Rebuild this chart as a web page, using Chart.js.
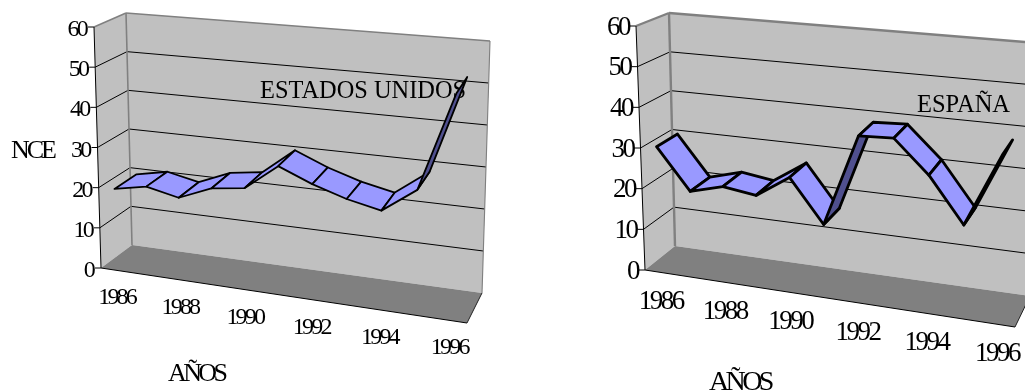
<!DOCTYPE html>
<html>
<head>
<meta charset="utf-8">
<style>
  html, body { margin: 0; background: #fff; overflow: hidden; }
  canvas { position: absolute; top: 0; }
</style>
<script src="https://cdn.jsdelivr.net/npm/chart.js@4"></script>
</head>
<body>
<canvas id="chartUsa" width="512" height="392" style="left:0"></canvas>
<canvas id="chartSpain" width="513" height="392" style="left:512px"></canvas>
<script>
const years = ['1986', '1987', '1988', '1989', '1990', '1991', '1992', '1993', '1994', '1995', '1996'];
const shownYears = ['1986', '1988', '1990', '1992', '1994', '1996'];
const usaValues = [20.2, 21.8, 20.1, 23.4, 24.5, 30.8, 27.5, 25, 23.3, 29.2, 52.6];
const spainValues = [30.8, 20.9, 23.1, 22, 27.3, 17.2, 39, 39.4, 31.8, 21.4, 38.3];

// the box the chart sits in, corners in canvas pixels (f/b front/back, l/r, t/b top/bottom)
const usaBox = {
  flt: [94, 27], flb: [101, 268], frt: [476, 63], frb: [467, 323],
  blt: [126, 13], blb: [132, 245], brt: [490, 41], brb: [482, 293]
};
const spainBox = {
  flt: [124, 26], flb: [133, 270], frt: [512, 61], frb: [503, 327],
  blt: [157, 13], blb: [163, 246], brt: [526, 43], brb: [518, 296]
};
// year spacing widens slightly towards the right of the picture
const perspective = 1.07;

// trilinear position inside the box: u along years, v down the value axis, w into the depth
function boxPoint(box, u0, v, w) {
  const u = u0 / (u0 + perspective * (1 - u0));
  const out = [0, 0];
  for (let i = 0; i < 2; i++) {
    const front = (box.flt[i] * (1 - u) + box.frt[i] * u) * (1 - v) + (box.flb[i] * (1 - u) + box.frb[i] * u) * v;
    const back = (box.blt[i] * (1 - u) + box.brt[i] * u) * (1 - v) + (box.blb[i] * (1 - u) + box.brb[i] * u) * v;
    out[i] = front * (1 - w) + back * w;
  }
  return out;
}

function scalePoint(chart, px, py, w) {
  const area = chart.chartArea;
  const u = (px - area.left) / area.width;
  const v = (py - area.top) / area.height;
  return boxPoint(chart.options.box3d.box, u, v, w);
}

function polygon(ctx, pts) {
  ctx.beginPath();
  pts.forEach((p, i) => (i === 0 ? ctx.moveTo(p[0], p[1]) : ctx.lineTo(p[0], p[1])));
  ctx.closePath();
}

function segment(ctx, a, b, color, width) {
  ctx.strokeStyle = color;
  ctx.lineWidth = width;
  ctx.beginPath();
  ctx.moveTo(a[0], a[1]);
  ctx.lineTo(b[0], b[1]);
  ctx.stroke();
}

function label(ctx, text, x, y, size, spacing, align) {
  ctx.font = size + 'px "Liberation Serif"';
  ctx.letterSpacing = spacing + 'px';
  ctx.fillStyle = '#000';
  ctx.textAlign = align;
  ctx.textBaseline = 'alphabetic';
  ctx.fillText(text, x, y);
  ctx.letterSpacing = '0px';
}

// a line dataset that paints its points as a ribbon through the box
class RibbonController extends Chart.LineController {
  draw() {
    const chart = this.chart;
    const ctx = chart.ctx;
    const cfg = chart.options.box3d;
    const points = this.getMeta().data;
    ctx.save();
    ctx.lineJoin = 'round';
    ctx.lineWidth = cfg.ribbonWidth;
    ctx.strokeStyle = '#000';
    for (let i = 0; i < points.length - 1; i++) {
      const a = scalePoint(chart, points[i].x, points[i].y, cfg.depthFrom);
      const b = scalePoint(chart, points[i + 1].x, points[i + 1].y, cfg.depthFrom);
      const c = scalePoint(chart, points[i + 1].x, points[i + 1].y, cfg.depthTo);
      const d = scalePoint(chart, points[i].x, points[i].y, cfg.depthTo);
      const turn = (b[0] - a[0]) * (d[1] - a[1]) - (b[1] - a[1]) * (d[0] - a[0]);
      polygon(ctx, [a, b, c, d]);
      ctx.fillStyle = turn < 0 ? '#9999ff' : '#50508f';
      ctx.fill();
      ctx.stroke();
    }
    ctx.restore();
  }
}
RibbonController.id = 'ribbon';
RibbonController.defaults = Chart.LineController.defaults;
Chart.register(RibbonController);

const box3dPlugin = {
  id: 'box3dPlugin',
  beforeDatasetsDraw(chart) {
    const ctx = chart.ctx;
    const cfg = chart.options.box3d;
    const box = cfg.box;
    const xScale = chart.scales.x;
    const yScale = chart.scales.y;
    ctx.save();
    ctx.lineCap = 'butt';

    // walls and floor
    ctx.fillStyle = '#c0c0c0';
    polygon(ctx, [box.flt, box.blt, box.blb, box.flb]);
    ctx.fill();
    polygon(ctx, [box.blt, box.brt, box.brb, box.blb]);
    ctx.fill();
    ctx.fillStyle = '#808080';
    polygon(ctx, [box.flb, box.blb, box.brb, box.frb]);
    ctx.fill();

    // grid lines and value ticks
    yScale.ticks.forEach(tick => {
      const py = yScale.getPixelForValue(tick.value);
      const front = scalePoint(chart, chart.chartArea.left, py, 0);
      const corner = scalePoint(chart, chart.chartArea.left, py, 1);
      const end = scalePoint(chart, chart.chartArea.right, py, 1);
      segment(ctx, [front[0] - 6, front[1]], front, '#000', 1);
      if (tick.value > 0 && tick.value < 60) {
        segment(ctx, front, corner, '#000', 1);
        segment(ctx, corner, end, '#000', 1);
      }
      label(ctx, String(tick.value), front[0] - cfg.tickGap, front[1] + cfg.tickDrop, cfg.tickSize, cfg.tickSpacing, 'right');
    });

    // wall edges
    segment(ctx, box.flt, box.blt, '#808080', cfg.edgeWidth);
    segment(ctx, box.blt, box.brt, '#808080', cfg.edgeWidth);
    segment(ctx, box.blt, box.blb, '#808080', cfg.edgeWidth);
    segment(ctx, box.brt, box.brb, '#808080', cfg.edgeWidth * 0.7);
    segment(ctx, box.flt, box.flb, '#000', 1);
    segment(ctx, box.flb, box.frb, '#000', 1);
    segment(ctx, box.frb, box.brb, '#222', 1);

    // year labels under the floor
    shownYears.forEach(year => {
      const px = xScale.getPixelForValue(years.indexOf(year));
      const p = scalePoint(chart, px, chart.chartArea.bottom, 0);
      label(ctx, year, p[0], p[1] + cfg.yearDrop, cfg.tickSize, cfg.tickSpacing, 'center');
    });

    cfg.texts.forEach(t => label(ctx, t.text, t.x, t.y, t.size, t.spacing, 'left'));
    ctx.restore();
  }
};

function makeChart(canvasId, name, values, box3d) {
  return new Chart(document.getElementById(canvasId), {
    type: 'ribbon',
    data: { labels: years, datasets: [{ label: name, data: values }] },
    options: {
      responsive: false,
      animation: false,
      box3d: box3d,
      layout: { padding: 0 },
      plugins: { legend: { display: false }, tooltip: { enabled: false } },
      scales: {
        x: { type: 'category', offset: true, display: false },
        y: { type: 'linear', min: 0, max: 60, ticks: { stepSize: 10 }, display: false }
      }
    },
    plugins: [box3dPlugin]
  });
}

makeChart('chartUsa', 'ESTADOS UNIDOS', usaValues, {
  box: usaBox,
  depthFrom: 0,
  depthTo: 0.72,
  ribbonWidth: 1.8,
  edgeWidth: 1.6,
  tickSize: 24,
  tickSpacing: -2.8,
  tickGap: 8,
  tickDrop: 9,
  yearDrop: 34,
  texts: [
    { text: 'ESTADOS UNIDOS', x: 260, y: 98, size: 24.4, spacing: 0 },
    { text: 'NCE', x: 11, y: 158, size: 26, spacing: -3 },
    { text: 'AÑOS', x: 168, y: 381, size: 26, spacing: -3.6 }
  ]
});

makeChart('chartSpain', 'ESPAÑA', spainValues, {
  box: spainBox,
  depthFrom: 0,
  depthTo: 0.68,
  ribbonWidth: 2.8,
  edgeWidth: 2.4,
  tickSize: 27,
  tickSpacing: -2.5,
  tickGap: 7,
  tickDrop: 8.5,
  yearDrop: 37,
  texts: [
    { text: 'ESPAÑA', x: 405, y: 112, size: 24.5, spacing: 0 },
    { text: 'AÑOS', x: 197, y: 390, size: 28, spacing: -3.6 }
  ]
});
</script>
</body>
</html>
